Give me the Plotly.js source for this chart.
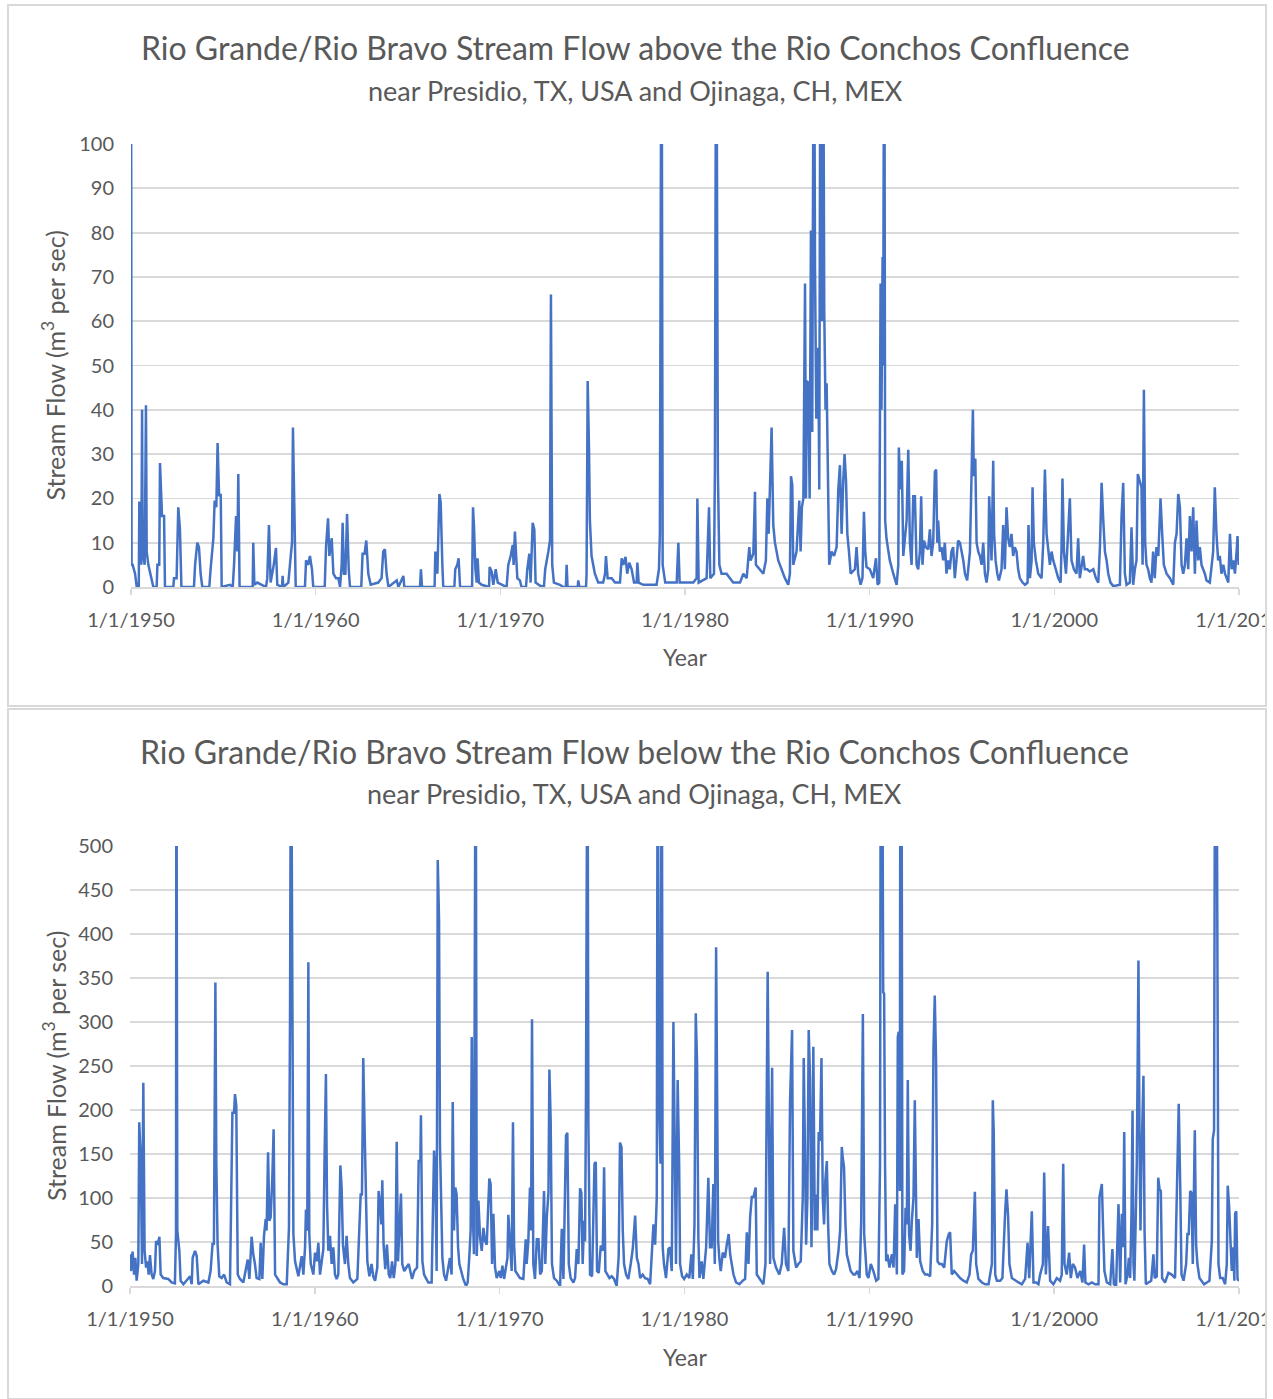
<!DOCTYPE html>
<html>
<head>
<meta charset="utf-8">
<script src="https://cdn.plot.ly/plotly-3.0.1.min.js"></script>
<style>
  html, body { margin: 0; padding: 0; background: #ffffff; width: 1273px; height: 1399px; overflow: hidden; }
  .plot { position: absolute; overflow: hidden; }
  .frame { position: absolute; box-sizing: border-box; border: 2px solid #d9d9d9; pointer-events: none; }
</style>
</head>
<body>
<div id="topPlot" class="plot" style="left:8px; top:5px; width:1258px; height:701px;"></div>
<div class="frame" style="left:7px; top:4px; width:1260px; height:703px;"></div>
<div id="bottomPlot" class="plot" style="left:8px; top:709px; width:1258px; height:689px;"></div>
<div class="frame" style="left:7px; top:708px; width:1260px; height:692px;"></div>
<script>
// ---------------- DATA ----------------
// Year ticks (shared)
const tickYears = [1950, 1960, 1970, 1980, 1990, 2000, 2010];
const tickLabels = ["1/1/1950", "1/1/1960", "1/1/1970", "1/1/1980", "1/1/1990", "1/1/2000", "1/1/2010"];

// Above the Rio Conchos confluence (m3/s), decimal year / flow
const aboveYears = [
  1950.00,1950.03,1950.09,1950.22,1950.31,1950.42,1950.45,1950.52,1950.56,1950.60,
  1950.63,1950.74,1950.81,1950.85,1950.94,1951.06,1951.21,1951.39,1951.43,1951.53,
  1951.57,1951.68,1951.79,1951.84,1952.29,1952.33,1952.47,1952.56,1952.65,1952.73,
  1953.41,1953.47,1953.59,1953.68,1953.77,1953.86,1954.24,1954.31,1954.46,1954.53,
  1954.62,1954.69,1954.77,1954.86,1954.91,1955.36,1955.51,1955.58,1955.69,1955.76,
  1955.81,1955.88,1956.59,1956.62,1956.68,1956.84,1957.31,1957.38,1957.47,1957.56,
  1957.73,1957.85,1957.92,1958.18,1958.21,1958.25,1958.52,1958.65,1958.72,1958.77,
  1958.84,1958.92,1959.42,1959.48,1959.60,1959.69,1959.80,1959.87,1960.49,1960.56,
  1960.67,1960.74,1960.87,1960.96,1961.10,1961.23,1961.32,1961.41,1961.46,1961.53,
  1961.61,1961.70,1961.79,1961.86,1962.47,1962.54,1962.65,1962.74,1962.85,1962.98,
  1963.39,1963.57,1963.66,1963.75,1963.84,1963.94,1964.39,1964.48,1964.75,1964.80,
  1965.65,1965.70,1965.76,1966.44,1966.48,1966.59,1966.70,1966.77,1966.86,1966.91,
  1967.51,1967.56,1967.67,1967.74,1967.82,1968.47,1968.52,1968.57,1968.65,1968.72,
  1968.77,1968.84,1968.99,1969.39,1969.42,1969.53,1969.62,1969.75,1969.86,1970.07,
  1970.34,1970.43,1970.56,1970.67,1970.72,1970.79,1970.85,1970.92,1971.06,1971.15,
  1971.39,1971.46,1971.57,1971.64,1971.75,1971.84,1971.91,1972.15,1972.36,1972.43,
  1972.60,1972.69,1972.74,1972.81,1972.90,1973.23,1973.41,1973.55,1973.59,1973.64,
  1974.19,1974.22,1974.28,1974.64,1974.67,1974.73,1974.80,1974.85,1974.94,1975.12,
  1975.30,1975.57,1975.67,1975.72,1975.81,1976.03,1976.21,1976.48,1976.57,1976.66,
  1976.78,1976.87,1976.98,1977.11,1977.24,1977.38,1977.42,1977.49,1977.74,1978.46,
  1978.59,1978.64,1978.73,1978.79,1978.93,1979.55,1979.64,1979.71,1980.45,1980.63,
  1980.67,1980.74,1981.17,1981.30,1981.37,1981.57,1981.62,1981.69,1981.78,1981.86,
  1981.98,1982.25,1982.61,1982.98,1983.16,1983.34,1983.48,1983.55,1983.70,1983.79,
  1983.84,1984.06,1984.24,1984.38,1984.46,1984.53,1984.60,1984.69,1984.78,1984.87,
  1985.05,1985.23,1985.41,1985.59,1985.68,1985.74,1985.81,1985.86,1986.04,1986.19,
  1986.26,1986.33,1986.41,1986.50,1986.55,1986.60,1986.68,1986.75,1986.82,1986.89,
  1986.98,1987.04,1987.11,1987.22,1987.27,1987.34,1987.42,1987.47,1987.54,1987.61,
  1987.67,1987.74,1987.81,1987.94,1988.07,1988.21,1988.30,1988.39,1988.48,1988.57,
  1988.64,1988.72,1988.79,1988.88,1988.97,1989.20,1989.29,1989.38,1989.51,1989.61,
  1989.69,1989.76,1989.83,1990.01,1990.19,1990.34,1990.43,1990.52,1990.59,1990.64,
  1990.70,1990.73,1990.79,1990.84,1990.91,1991.00,1991.09,1991.28,1991.46,1991.55,
  1991.58,1991.65,1991.74,1991.82,1991.91,1992.00,1992.09,1992.18,1992.27,1992.36,
  1992.45,1992.54,1992.63,1992.72,1992.79,1992.86,1992.94,1993.04,1993.17,1993.26,
  1993.35,1993.44,1993.53,1993.60,1993.66,1993.71,1993.80,1993.89,1993.98,1994.07,
  1994.16,1994.25,1994.34,1994.43,1994.52,1994.61,1994.70,1994.79,1994.89,1994.98,
  1995.07,1995.16,1995.28,1995.43,1995.50,1995.53,1995.59,1995.64,1995.72,1995.79,
  1995.88,1995.97,1996.06,1996.15,1996.24,1996.33,1996.42,1996.47,1996.55,1996.60,
  1996.69,1996.74,1996.82,1996.91,1997.00,1997.14,1997.23,1997.32,1997.41,1997.50,
  1997.59,1997.68,1997.77,1997.86,1997.95,1998.04,1998.13,1998.28,1998.41,1998.55,
  1998.60,1998.68,1998.77,1998.82,1998.89,1999.00,1999.13,1999.31,1999.40,1999.49,
  1999.58,1999.67,1999.76,1999.85,1999.94,2000.08,2000.21,2000.34,2000.39,2000.44,
  2000.52,2000.63,2000.75,2000.84,2000.93,2001.06,2001.20,2001.29,2001.38,2001.56,
  2001.65,2001.78,2001.92,2002.11,2002.25,2002.38,2002.47,2002.56,2002.65,2002.74,
  2002.83,2002.92,2003.04,2003.19,2003.55,2003.64,2003.73,2003.82,2003.91,2004.09,
  2004.18,2004.27,2004.36,2004.45,2004.52,2004.63,2004.72,2004.78,2004.85,2004.92,
  2004.99,2005.08,2005.17,2005.26,2005.35,2005.44,2005.53,2005.63,2005.75,2005.84,
  2005.93,2006.08,2006.26,2006.44,2006.53,2006.62,2006.71,2006.80,2006.89,2006.98,
  2007.07,2007.16,2007.25,2007.34,2007.43,2007.52,2007.61,2007.70,2007.79,2007.88,
  2007.97,2008.06,2008.15,2008.24,2008.42,2008.60,2008.69,2008.78,2008.87,2008.96,
  2009.05,2009.15,2009.24,2009.33,2009.42,2009.51,2009.60,2009.69,2009.78,2009.87,
  2009.92,2009.98,2010.00
];
const aboveFlow = [
  150,5,5,3,0,0,19,19,5,40,
  8,5,41,8,5,3,0,0,5,5,
  28,16,16,0,0,2,2,18,13,0,
  0,5,10,9,3,0,0,4,11,19.5,
  18,32.5,20.5,21,0,0.5,0,5,16,8,
  25.5,0,0,10,0.5,1,0,2,14,1,
  5,8.8,0.5,0,2.5,0,1,7,10,36,
  15,0,0,6,5,7,4,0,0,9,
  15.5,7,11,3,2,2,0,5,14.5,3,
  3,16.5,4,0,0,7.5,7.5,10.5,3,0.5,
  1,2,8,8.5,3,0,1.5,0,2.5,0,
  0,4,0,0,8,3,21,19,5,0,
  0,4,5,6.5,0,0,18,14,4,1,
  6.5,1,0.5,0,4.5,3.5,0.5,4,1,0.5,
  0,5,7,9.5,5,12.5,7,2,1.5,0,
  0,4,7.5,1,14.5,13,1,0.3,0,4,
  8,10.5,66,5,1,0.5,0,0,5,0,
  0,1.5,0,0,3,46.5,31.5,15,7,3,
  1,1,3,7,2,2,1,1,6.5,5,
  6.8,3,5.5,4,1,1,5.5,1,0.5,0.5,
  4,12,150,5,1,1,10,1,1,2,
  20,1,2,18,2,3,27,150,26,5,
  3,3,1,1,3,2,9,6,7.5,21.5,
  5,4,3,6,20,12,26,36,14,10,
  6,4,2,0.5,3,25,23,5,8,19.5,
  8,18,20,68.5,20,46.5,46,20,80.5,35,
  150,72,38,54,22,150,60,150,62.5,40,
  46,20,5,8,7,9,22,27.5,12,24,
  30,24,12,8,3,4,9,3,0.5,2,
  17,8,4.5,4,2,6.5,0.5,1,68.5,40,
  74.5,50,150,15,11,8.5,6,3,0.5,5,
  31.5,22,28.5,7,12,15,31,10,5,20.5,
  20.5,5,4,8,20.5,5,10.5,9,8.5,13,
  7,10,26,26.5,10,15,8,9,6,10,
  3,6,4,8,9,2,6,10.5,10,8,
  6,3,1.5,8,20,29,40,25,29,10,
  8,7,5,10,3,1,4,20.5,10,6,
  28.5,12,6,3,1.5,4,14,4,18,11,
  9,12,7,9,8,4,2,1,0.5,1,
  14,2,6,22.5,10,6,3,2,10,26.5,
  12,8,5,8,6,4,2,1,9,24.5,
  8,3,12,20,6,4,3,11,2,7,
  4,4,3.5,4,2,1,9,23.5,15,8,
  6,3,1,0.2,0.5,16,23.5,3,0.5,1,
  13.5,0.5,4,6,25.5,24,22.5,5,44.5,10,
  5,4,2,1,8,2,9,7,20,12,
  5,3,2,0.5,10,12,21,18,5,3,
  5,11,4,16,8,18,3,15,6,9,
  5,4,3,1.5,1,8,22.5,12,6,7,
  3,5,3,2,1,12,4,6,3,8,
  11.5,5,6
];

// Below the Rio Conchos confluence (m3/s), decimal year / flow
const belowYears = [
  1950.00,1950.05,1950.14,1950.22,1950.29,1950.36,1950.45,1950.50,1950.58,1950.65,
  1950.72,1950.79,1950.87,1950.94,1951.01,1951.08,1951.17,1951.26,1951.35,1951.41,
  1951.50,1951.59,1951.66,1951.80,1952.07,1952.25,1952.43,1952.49,1952.51,1952.56,
  1952.67,1952.74,1952.89,1953.07,1953.25,1953.34,1953.39,1953.52,1953.61,1953.70,
  1953.97,1954.24,1954.36,1954.47,1954.54,1954.62,1954.67,1954.74,1954.83,1954.96,
  1955.09,1955.23,1955.41,1955.54,1955.63,1955.68,1955.75,1955.83,1955.95,1956.13,
  1956.37,1956.46,1956.58,1956.67,1956.76,1956.85,1957.00,1957.07,1957.16,1957.25,
  1957.34,1957.39,1957.47,1957.54,1957.61,1957.70,1957.77,1957.85,1957.97,1958.12,
  1958.30,1958.48,1958.60,1958.66,1958.71,1958.78,1958.84,1958.93,1959.11,1959.29,
  1959.38,1959.47,1959.52,1959.59,1959.65,1959.70,1959.78,1959.92,1960.01,1960.10,
  1960.19,1960.28,1960.37,1960.46,1960.53,1960.60,1960.66,1960.73,1960.82,1960.91,
  1961.00,1961.09,1961.18,1961.27,1961.38,1961.45,1961.52,1961.63,1961.72,1961.81,
  1961.90,1962.08,1962.30,1962.41,1962.48,1962.55,1962.62,1962.70,1962.77,1962.84,
  1962.95,1963.07,1963.16,1963.26,1963.38,1963.45,1963.53,1963.60,1963.65,1963.72,
  1963.81,1963.90,1964.00,1964.08,1964.18,1964.27,1964.36,1964.43,1964.50,1964.59,
  1964.66,1964.73,1964.84,1964.95,1965.08,1965.26,1965.38,1965.53,1965.62,1965.71,
  1965.74,1965.82,1965.91,1966.01,1966.14,1966.32,1966.37,1966.45,1966.52,1966.59,
  1966.65,1966.72,1966.77,1966.83,1966.90,1966.99,1967.10,1967.22,1967.31,1967.40,
  1967.46,1967.53,1967.60,1967.67,1967.75,1967.82,1967.94,1968.03,1968.18,1968.27,
  1968.36,1968.43,1968.49,1968.54,1968.61,1968.70,1968.76,1968.85,1968.94,1969.03,
  1969.12,1969.21,1969.30,1969.37,1969.44,1969.51,1969.59,1969.66,1969.75,1969.84,
  1969.98,1970.06,1970.15,1970.24,1970.35,1970.42,1970.47,1970.53,1970.60,1970.65,
  1970.72,1970.78,1970.85,1970.96,1971.10,1971.28,1971.41,1971.46,1971.55,1971.64,
  1971.70,1971.75,1971.82,1971.91,1972.01,1972.10,1972.19,1972.28,1972.40,1972.47,
  1972.55,1972.64,1972.69,1972.76,1972.83,1972.94,1973.09,1973.27,1973.36,1973.45,
  1973.54,1973.59,1973.66,1973.74,1973.84,1973.99,1974.08,1974.17,1974.26,1974.35,
  1974.42,1974.49,1974.57,1974.62,1974.67,1974.75,1974.80,1974.89,1975.00,1975.07,
  1975.13,1975.20,1975.27,1975.36,1975.47,1975.58,1975.65,1975.72,1975.83,1975.94,
  1976.06,1976.19,1976.33,1976.44,1976.51,1976.59,1976.66,1976.73,1976.84,1976.96,
  1977.09,1977.20,1977.33,1977.42,1977.51,1977.60,1977.74,1977.87,1978.01,1978.14,
  1978.23,1978.32,1978.41,1978.50,1978.55,1978.62,1978.70,1978.77,1978.82,1978.89,
  1979.00,1979.13,1979.22,1979.31,1979.40,1979.47,1979.54,1979.63,1979.71,1979.76,
  1979.87,1979.98,1980.12,1980.26,1980.37,1980.45,1980.54,1980.61,1980.68,1980.75,
  1980.81,1980.93,1981.02,1981.17,1981.29,1981.38,1981.47,1981.56,1981.64,1981.71,
  1981.76,1981.82,1981.89,1981.96,1982.07,1982.19,1982.28,1982.39,1982.47,1982.56,
  1982.65,1982.79,1982.97,1983.15,1983.28,1983.37,1983.46,1983.55,1983.64,1983.73,
  1983.85,1983.91,1984.09,1984.27,1984.38,1984.45,1984.50,1984.56,1984.63,1984.74,
  1984.81,1984.95,1985.13,1985.26,1985.39,1985.49,1985.62,1985.71,1985.82,1985.89,
  1986.04,1986.16,1986.29,1986.40,1986.45,1986.50,1986.58,1986.65,1986.72,1986.79,
  1986.87,1986.92,1986.97,1987.05,1987.12,1987.19,1987.26,1987.33,1987.41,1987.48,
  1987.55,1987.62,1987.70,1987.77,1987.84,1987.97,1988.09,1988.20,1988.33,1988.42,
  1988.51,1988.56,1988.63,1988.71,1988.78,1988.87,1988.99,1989.14,1989.23,1989.36,
  1989.47,1989.56,1989.65,1989.72,1989.79,1989.86,1989.95,1990.08,1990.22,1990.37,
  1990.49,1990.58,1990.62,1990.69,1990.75,1990.80,1990.85,1990.91,1990.98,1991.09,
  1991.22,1991.31,1991.40,1991.49,1991.54,1991.59,1991.65,1991.68,1991.74,1991.79,
  1991.88,1991.96,1992.03,1992.08,1992.15,1992.23,1992.30,1992.39,1992.46,1992.51,
  1992.57,1992.66,1992.75,1992.89,1993.02,1993.15,1993.29,1993.40,1993.47,1993.54,
  1993.61,1993.69,1993.79,1993.92,1994.05,1994.19,1994.30,1994.37,1994.46,1994.59,
  1994.73,1994.91,1995.09,1995.27,1995.42,1995.51,1995.60,1995.71,1995.78,1995.90,
  1996.09,1996.27,1996.45,1996.54,1996.63,1996.68,1996.73,1996.81,1996.90,1997.08,
  1997.20,1997.35,1997.42,1997.51,1997.58,1997.71,1997.89,1998.07,1998.25,1998.43,
  1998.56,1998.65,1998.79,1998.88,1999.02,1999.15,1999.24,1999.39,1999.46,1999.55,
  1999.67,1999.78,1999.96,2000.14,2000.32,2000.41,2000.49,2000.56,2000.68,2000.81,
  2000.90,2001.01,2001.13,2001.26,2001.41,2001.53,2001.62,2001.69,2001.86,2002.04,
  2002.22,2002.40,2002.45,2002.51,2002.58,2002.65,2002.72,2002.85,2003.03,2003.15,
  2003.23,2003.35,2003.48,2003.57,2003.66,2003.73,2003.79,2003.86,2003.97,2004.04,
  2004.11,2004.18,2004.24,2004.29,2004.34,2004.40,2004.47,2004.52,2004.56,2004.62,
  2004.67,2004.72,2004.78,2004.83,2004.89,2004.96,2005.10,2005.25,2005.37,2005.44,
  2005.55,2005.63,2005.70,2005.77,2005.84,2006.00,2006.18,2006.36,2006.54,2006.62,
  2006.69,2006.74,2006.82,2006.89,2007.00,2007.14,2007.21,2007.28,2007.36,2007.43,
  2007.50,2007.54,2007.61,2007.68,2007.75,2007.86,2007.99,2008.11,2008.26,2008.40,
  2008.53,2008.58,2008.65,2008.71,2008.78,2008.84,2008.89,2008.98,2009.12,2009.25,
  2009.34,2009.39,2009.47,2009.54,2009.61,2009.68,2009.75,2009.79,2009.85,2009.92,
  2009.99,2010.00
];
const belowFlow = [
  36,17,39,13,32,6,25,186,146,25,
  231,40,21,28,13,35,13,8,17,51,
  47,56,13,9,8,4,3,61,700,63,
  40,6,2,6,11,2,32,40,34,2,
  6,4,17,49,47,345,140,47,11,9,
  13,4,2,197,197,218,205,13,8,4,
  30,8,56,36,25,9,8,49,8,57,
  76,63,152,74,78,123,178,13,9,4,
  2,2,66,319,700,306,59,28,11,34,
  13,44,87,63,368,59,25,13,38,28,
  49,13,28,42,151,241,93,40,57,25,
  44,13,8,13,137,112,47,25,57,25,
  9,4,8,66,104,104,259,171,93,28,
  11,25,11,6,21,108,93,70,120,47,
  19,47,13,9,28,9,25,164,28,65,
  105,25,17,21,25,8,17,21,142,142,
  194,28,13,9,4,4,66,154,127,17,
  484,416,161,93,32,13,6,21,32,13,
  209,63,112,104,44,25,13,8,0,4,
  34,63,283,89,36,700,34,97,55,40,
  66,51,47,97,122,116,25,82,21,9,
  17,9,23,8,25,32,81,59,44,17,
  186,47,17,13,9,8,53,25,51,112,
  63,303,25,8,53,53,13,17,108,25,
  78,106,246,188,25,9,6,0,65,8,
  110,171,174,25,9,4,9,42,25,111,
  106,25,74,51,216,700,182,13,11,101,
  139,141,17,15,46,40,135,17,13,9,
  11,8,0,34,163,158,63,25,13,8,
  25,42,80,32,25,9,13,9,8,2,
  36,70,47,101,700,211,139,700,44,25,
  9,42,44,17,300,139,25,234,139,25,
  11,8,13,9,36,8,70,310,253,55,
  9,28,8,44,123,44,44,116,25,385,
  230,51,30,17,38,32,46,59,36,25,
  13,4,2,6,8,61,25,78,101,101,
  112,13,8,2,25,199,357,199,25,248,
  32,21,13,25,66,25,17,209,291,40,
  21,25,28,101,259,184,47,101,291,237,
  44,139,272,63,104,63,175,165,259,101,
  70,120,142,70,25,17,13,19,40,63,
  158,146,135,70,36,28,17,13,13,17,
  9,74,309,59,28,13,9,25,17,6,
  8,139,700,700,334,332,139,28,36,21,
  36,21,93,13,283,289,108,700,700,13,
  17,89,70,234,59,40,74,101,211,146,
  32,76,28,17,13,13,11,70,270,330,
  256,28,25,25,21,51,59,61,13,17,
  13,9,6,4,13,36,40,107,25,8,
  4,2,2,13,25,211,175,13,6,6,
  9,85,110,78,25,9,6,4,2,8,
  49,9,85,4,4,2,13,25,129,13,
  68,6,2,9,6,13,139,25,13,38,
  9,25,21,9,17,4,47,4,2,4,
  2,2,101,110,116,63,17,4,2,42,
  2,0,93,4,82,44,175,2,13,32,
  9,78,199,25,6,63,139,260,370,163,
  63,139,186,239,63,2,4,6,36,9,
  11,123,110,108,9,4,15,13,9,101,
  139,207,114,13,6,25,59,59,108,106,
  25,82,177,47,25,9,6,2,4,6,
  51,167,177,700,700,139,25,9,9,2,
  25,114,89,51,17,44,6,82,85,8,
  6,8
];

// ---------------- STYLE ----------------
const FONT = "Lato, 'Open Sans', sans-serif";
const TXT = "#595959";
const GRID = "#d9d9d9";
const LINE = "#4472C4";

function makeLayout(yMax, yStep, margin, titleY, subY, yearY, ytitleX) {
  return {
    width: 1258,
    height: margin.h,
    margin: { l: margin.l, r: margin.r, t: margin.t, b: margin.b, pad: 0 },
    paper_bgcolor: "#ffffff",
    plot_bgcolor: "#ffffff",
    showlegend: false,
    font: { family: FONT, color: TXT, size: 20 },
    xaxis: {
      type: "linear",
      range: [1950, 2010],
      tickmode: "array",
      tickvals: tickYears,
      ticktext: tickLabels,
      ticks: "outside",
      ticklen: 6,
      tickwidth: 1.5,
      tickcolor: GRID,
      showline: true,
      linecolor: GRID,
      linewidth: 1.5,
      showgrid: false,
      zeroline: false,
      tickfont: { family: FONT, color: TXT, size: 20 },
      ticklabelstandoff: 8,
      ticklabeloverflow: "allow"
    },
    yaxis: {
      range: [0, yMax],
      dtick: yStep,
      tick0: 0,
      showgrid: true,
      gridcolor: GRID,
      gridwidth: 1.8,
      zeroline: false,
      showline: false,
      ticks: "",
      tickfont: { family: FONT, color: TXT, size: 20 },
      ticklabelstandoff: 16
    },
    annotations: [
      { text: titleY.text, xref: "paper", yref: "paper", x: 0.455, y: titleY.y, xanchor: "center", yanchor: "middle", showarrow: false, font: { family: FONT, size: 32, color: TXT } },
      { text: "near Presidio, TX, USA and Ojinaga, CH, MEX", xref: "paper", yref: "paper", x: 0.455, y: subY, xanchor: "center", yanchor: "middle", showarrow: false, font: { family: FONT, size: 27, color: TXT } },
      { text: "Year", xref: "paper", yref: "paper", x: 0.5, y: yearY, xanchor: "center", yanchor: "middle", showarrow: false, font: { family: FONT, size: 23, color: TXT } },
      { text: "Stream Flow (m<sup>3</sup> per sec)", xref: "paper", yref: "paper", x: ytitleX, y: 0.5, xanchor: "center", yanchor: "middle", textangle: -90, showarrow: false, font: { family: FONT, size: 25, color: TXT } }
    ]
  };
}

const traceAbove = {
  x: aboveYears, y: aboveFlow, type: "scatter", mode: "lines",
  line: { color: LINE, width: 2.5 }, hoverinfo: "skip"
};
const traceBelow = {
  x: belowYears, y: belowFlow, type: "scatter", mode: "lines",
  line: { color: LINE, width: 2.5 }, hoverinfo: "skip"
};

const layoutTop = makeLayout(100, 10,
  { l: 123, r: 27, t: 139, b: 119, h: 701 },
  { text: "Rio Grande/Rio Bravo Stream Flow above the Rio Conchos Confluence", y: 1.217 },
  1.121, -0.158, -0.0695);
const layoutBottom = makeLayout(500, 50,
  { l: 122, r: 27, t: 137, b: 112, h: 689 },
  { text: "Rio Grande/Rio Bravo Stream Flow below the Rio Conchos Confluence", y: 1.214 },
  1.12, -0.161, -0.0685);

const config = { staticPlot: true, displayModeBar: false };
Plotly.newPlot("topPlot", [traceAbove], layoutTop, config);
Plotly.newPlot("bottomPlot", [traceBelow], layoutBottom, config);
</script>
</body>
</html>
